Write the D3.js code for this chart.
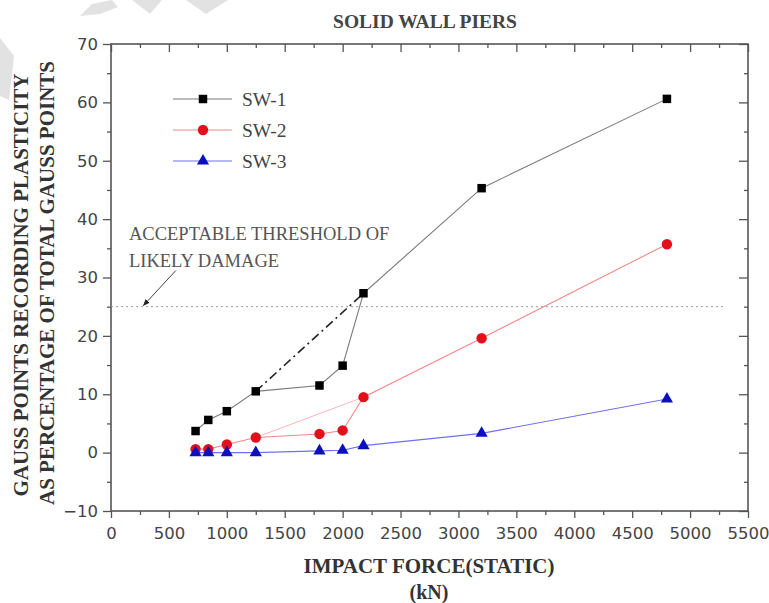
<!DOCTYPE html>
<html lang="en">
<head>
    <meta charset="UTF-8">
    <title>Solid Wall Piers</title>
    <script src="https://d3js.org/d3.v7.min.js"></script>
    <style>
        body { margin: 0; background: #fff; }
        svg { display: block; }
        .serif { font-family: "Liberation Serif", "Times New Roman", serif; }
        .tick text { font-family: "DejaVu Sans", sans-serif; font-size: 16.5px; fill: #444; }
        .tick line { stroke: #555; stroke-width: 1.3; }
    </style>
</head>
<body>
    <script>
        // Impact force (kN) shared by all three piers
        const force = [730, 840, 1000, 1250, 1800, 2000, 2180, 3200, 4800];
        // Gauss points recording plasticity (% of total)
        const sw1 = [3.7, 5.6, 7.1, 10.5, 11.5, 14.9, 27.3, 45.3, 60.6];
        const sw2 = [0.6, 0.6, 1.4, 2.6, 3.2, 3.8, 9.5, 19.6, 35.7];
        const sw3 = [0, 0, 0, 0, 0.3, 0.4, 1.2, 3.3, 9.2];
        const seriesNames = ["SW-1", "SW-2", "SW-3"];

        const xTicks = d3.range(0, 5501, 500);
        const yTicks = d3.range(-10, 71, 10);
        const threshold = 25;
        const thresholdSpan = [0, 5300];
        const arrowFrom = [560, 31.2], arrowTo = [280, 25.2];

        const W = 769, H = 603;
        const plot = { left: 111, right: 748, top: 44, bottom: 511 };

        const svg = d3.select("body").append("svg")
            .attr("width", W).attr("height", H);

        // faint watermark fragments in the scan
        const wm = [
            [[0, 38], [14, 56], [9, 100], [0, 96]],
            [[80, 16], [92, 4], [112, 0], [118, 7], [100, 14]],
            [[132, 0], [162, 0], [150, 14]],
            [[186, 0], [228, 0], [206, 14]]
        ];
        svg.selectAll(".wm").data(wm).enter().append("polygon")
            .attr("points", d => d.map(p => p.join(",")).join(" "))
            .attr("fill", "#e2e2e2");

        const x = d3.scaleLinear().domain([0, 5500]).range([plot.left, plot.right]);
        const y = d3.scaleLinear().domain([-10, 70]).range([plot.bottom, plot.top]);

        // axes: outward on bottom/left, inward on top/right
        svg.append("g").attr("transform", `translate(0,${plot.bottom})`)
            .call(d3.axisBottom(x).tickValues(xTicks).tickSize(7).tickPadding(9).tickFormat(d3.format("d")))
            .call(g => g.select(".domain").remove());
        svg.append("g").attr("transform", `translate(0,${plot.bottom})`)
            .call(d3.axisBottom(x).tickValues(d3.range(250, 5500, 500)).tickSize(4).tickFormat(""))
            .call(g => g.select(".domain").remove());
        svg.append("g").attr("transform", `translate(${plot.left},0)`)
            .call(d3.axisLeft(y).tickValues(yTicks).tickSize(8).tickPadding(5))
            .call(g => g.select(".domain").remove());
        svg.append("g").attr("transform", `translate(${plot.left},0)`)
            .call(d3.axisLeft(y).tickValues(d3.range(-5, 70, 10)).tickSize(4).tickFormat(""))
            .call(g => g.select(".domain").remove());
        svg.append("g").attr("transform", `translate(0,${plot.top})`)
            .call(d3.axisTop(x).tickValues(xTicks).tickSize(-8).tickFormat(""))
            .call(g => g.select(".domain").remove());
        svg.append("g").attr("transform", `translate(0,${plot.top})`)
            .call(d3.axisTop(x).tickValues(d3.range(250, 5500, 500)).tickSize(-4).tickFormat(""))
            .call(g => g.select(".domain").remove());
        svg.append("g").attr("transform", `translate(${plot.right},0)`)
            .call(d3.axisRight(y).tickValues(yTicks).tickSize(-9).tickFormat(""))
            .call(g => g.select(".domain").remove());
        svg.append("g").attr("transform", `translate(${plot.right},0)`)
            .call(d3.axisRight(y).tickValues(d3.range(-5, 70, 10)).tickSize(-4).tickFormat(""))
            .call(g => g.select(".domain").remove());

        svg.append("rect")
            .attr("x", plot.left).attr("y", plot.top)
            .attr("width", plot.right - plot.left).attr("height", plot.bottom - plot.top)
            .attr("fill", "none").attr("stroke", "#555").attr("stroke-width", 1.6);

        // threshold line
        svg.append("line")
            .attr("x1", x(thresholdSpan[0])).attr("x2", x(thresholdSpan[1]))
            .attr("y1", y(threshold)).attr("y2", y(threshold))
            .attr("stroke", "#999").attr("stroke-width", 1).attr("stroke-dasharray", "2,3");

        const line = d3.line().x(d => x(d[0])).y(d => y(d[1]));
        const pts = vals => force.map((f, i) => [f, vals[i]]);

        // bypass lines (index 3 -> 6)
        svg.append("path").attr("d", line([pts(sw2)[3], pts(sw2)[6]]))
            .attr("fill", "none").attr("stroke", "#f7b8b8").attr("stroke-width", 1);
        svg.append("path").attr("d", line([pts(sw1)[3], pts(sw1)[6]]))
            .attr("fill", "none").attr("stroke", "#222").attr("stroke-width", 1.6)
            .attr("stroke-dasharray", "9,4,2,4");

        const styles = [
            { data: sw1, line: "#7a7a7a", fill: "#000", sym: d3.symbolSquare, size: 72 },
            { data: sw2, line: "#f08888", fill: "#e3101c", sym: d3.symbolCircle, size: 85 },
            { data: sw3, line: "#6f6ff5", fill: "#0a10c0", sym: d3.symbolTriangle, size: 64 }
        ];

        styles.forEach(s => {
            svg.append("path").attr("d", line(pts(s.data)))
                .attr("fill", "none").attr("stroke", s.line).attr("stroke-width", 1.1);
        });
        styles.forEach(s => {
            svg.append("g").selectAll("path").data(pts(s.data)).enter().append("path")
                .attr("d", d3.symbol().type(s.sym).size(s.size))
                .attr("transform", d => `translate(${x(d[0])},${y(d[1])})`)
                .attr("fill", s.fill);
        });

        // legend
        const legend = svg.append("g");
        styles.forEach((s, i) => {
            const ly = 99 + i * 31;
            legend.append("line").attr("x1", 173).attr("x2", 232).attr("y1", ly).attr("y2", ly)
                .attr("stroke", s.line).attr("stroke-width", 1.1);
            legend.append("path").attr("d", d3.symbol().type(s.sym).size(s.size)())
                .attr("transform", `translate(203,${ly})`).attr("fill", s.fill);
            legend.append("text").attr("class", "serif")
                .attr("x", 242).attr("y", ly + 7)
                .attr("font-size", 19.5).attr("fill", "#444").text(seriesNames[i]);
        });

        // annotation
        const ann = svg.append("g").attr("class", "serif").attr("font-size", 18.5).attr("fill", "#555");
        ann.append("text").attr("x", 129).attr("y", 240).text("ACCEPTABLE THRESHOLD OF");
        ann.append("text").attr("x", 129).attr("y", 267).text("LIKELY DAMAGE");

        svg.append("defs").append("marker")
            .attr("id", "arrow").attr("viewBox", "0 0 10 10")
            .attr("refX", 9).attr("refY", 5)
            .attr("markerWidth", 7).attr("markerHeight", 7)
            .attr("orient", "auto")
            .append("path").attr("d", "M0,1 L10,5 L0,9 Z").attr("fill", "#222");
        svg.append("line")
            .attr("x1", x(arrowFrom[0])).attr("y1", y(arrowFrom[1]))
            .attr("x2", x(arrowTo[0])).attr("y2", y(arrowTo[1]))
            .attr("stroke", "#444").attr("stroke-width", 1)
            .attr("marker-end", "url(#arrow)");

        // titles
        svg.append("text").attr("class", "serif")
            .attr("x", 425).attr("y", 28).attr("text-anchor", "middle")
            .attr("font-size", 19.5).attr("font-weight", "bold").attr("fill", "#444")
            .text("SOLID WALL PIERS");

        const xt = svg.append("g").attr("class", "serif").attr("text-anchor", "middle")
            .attr("font-weight", "bold").attr("fill", "#333");
        xt.append("text").attr("x", 429).attr("y", 573).attr("font-size", 21).text("IMPACT FORCE(STATIC)");
        xt.append("text").attr("x", 429).attr("y", 599).attr("font-size", 20).text("(kN)");

        const yt = svg.append("g").attr("class", "serif").attr("text-anchor", "middle")
            .attr("font-weight", "bold").attr("fill", "#333").attr("font-size", 21);
        yt.append("text").attr("transform", "translate(28,285) rotate(-90)")
            .text("GAUSS POINTS RECORDING PLASTICITY");
        yt.append("text").attr("transform", "translate(54,283) rotate(-90)")
            .text("AS PERCENTAGE OF TOTAL GAUSS POINTS");
    </script>
</body>
</html>
